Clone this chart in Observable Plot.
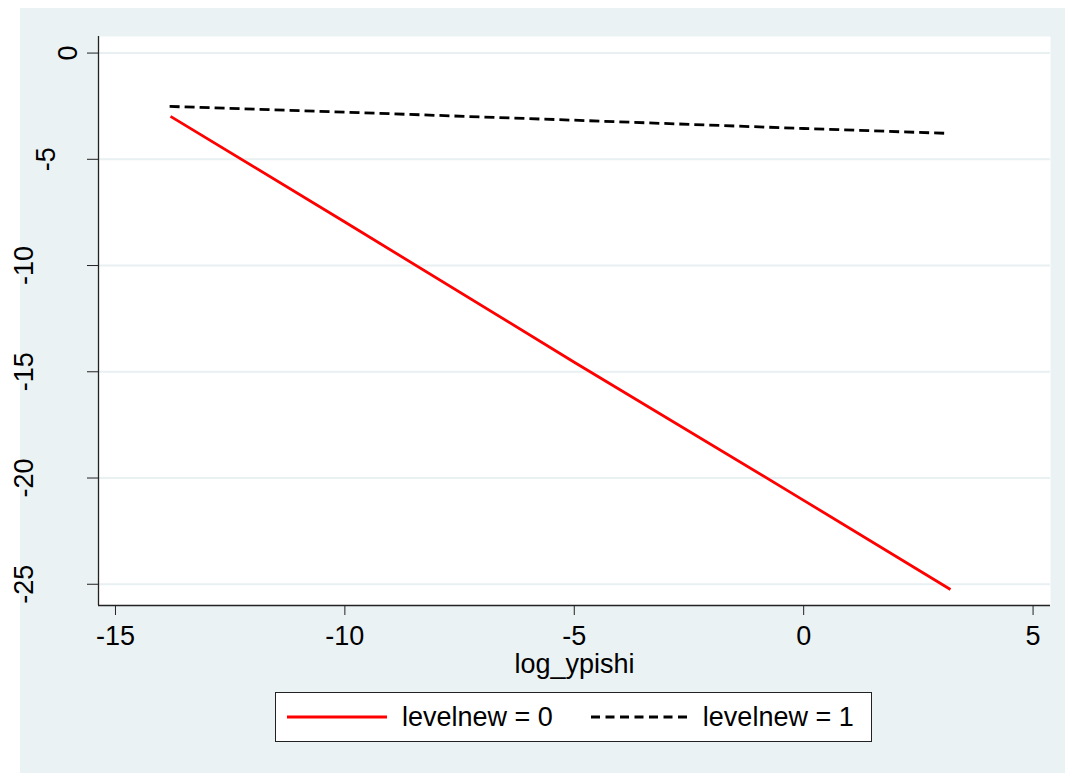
<!DOCTYPE html>
<html>
<head>
<meta charset="utf-8">
<script src="https://cdn.jsdelivr.net/npm/d3@7"></script>
<script src="https://cdn.jsdelivr.net/npm/@observablehq/plot@0.6"></script>
<style>
  html, body { margin: 0; padding: 0; background: #ffffff; }
  body { width: 1065px; height: 773px; position: relative; overflow: hidden;
         font-family: "Liberation Sans", Arial, sans-serif; }
  #fig { position: absolute; left: 20px; top: 8px; width: 1045px; height: 765px; background: #EAF2F3; }
  #chart { position: absolute; left: 0; top: 0; }
  #legend { position: absolute; left: 255px; top: 684px; width: 595px; height: 48px;
            border: 1px solid #222; background: #ffffff; display: flex; align-items: center;
            font-size: 27px; color: #000; white-space: nowrap; }
  #legend .sw { display: block; }
</style>
</head>
<body>
<div id="fig">
  <div id="chart"></div>
  <div id="legend"></div>
</div>
<script>
// ---- data ----
const seriesNames = ["levelnew = 0", "levelnew = 1"];
const x0 = [-13.8, -10, -5, 0, 3.2];
const y0 = [-2.98, -7.95, -14.55, -21.05, -25.25];
const x1 = [-13.82, -10, -5, 0, 3.15];
const y1 = [-2.51, -2.78, -3.16, -3.55, -3.78];
const xTicks = [-15, -10, -5, 0, 5];
const xTickLabels = ["-15", "-10", "-5", "0", "5"];
const yTicks = [0, -5, -10, -15, -20, -25];
const yTickLabels = ["0", "-5", "-10", "-15", "-20", "-25"];
const xTitle = "log_ypishi";
const xDomain = [-15.37, 5.38];
const yDomain = [-26.0, 0.78];

const colors = ["#ff0000", "#000000"];
const font = "'Liberation Sans', Arial, sans-serif";

const s0 = x0.map((x, i) => ({x, y: y0[i]}));
const s1 = x1.map((x, i) => ({x, y: y1[i]}));

const yLabelMarks = yTicks.map((t, i) =>
  Plot.text([t], {
    y: d => d,
    frameAnchor: "left",
    text: () => yTickLabels[i],
    rotate: -90,
    textAnchor: "middle",
    lineAnchor: "middle",
    fontSize: 27,
    fill: "#000",
    dx: -8 - 22 * yTickLabels[i].length
  })
);

const chart = Plot.plot({
  width: 1045,
  height: 680,
  marginLeft: 78,
  marginRight: 15,
  marginTop: 28,
  marginBottom: 83,
  x: {domain: xDomain},
  y: {domain: yDomain},
  style: {background: "transparent", fontFamily: font, color: "#000", overflow: "visible"},
  marks: [
    Plot.frame({fill: "#ffffff", stroke: "none"}),
    Plot.ruleY(yTicks, {stroke: "#E8F0F2", strokeWidth: 2}),
    Plot.ruleX([xDomain[0]], {stroke: "#222", strokeWidth: 1.3}),
    Plot.ruleY([yDomain[0]], {stroke: "#222", strokeWidth: 1.3}),
    Plot.axisY({ticks: yTicks, tickSize: 11, tickFormat: () => "", stroke: "#222", label: null}),
    Plot.axisX({ticks: xTicks, tickSize: 10, tickPadding: 10, fontSize: 27,
                tickFormat: (d, i) => xTickLabels[xTicks.indexOf(d)], stroke: "#222", fill: "#000", label: null}),
    ...yLabelMarks,
    Plot.text([xTitle], {frameAnchor: "bottom", text: d => d, lineAnchor: "bottom", dy: 67, fontSize: 27, fill: "#000"}),
    Plot.line(s0, {x: "x", y: "y", stroke: colors[0], strokeWidth: 2.8, strokeLinecap: "butt"}),
    Plot.line(s1, {x: "x", y: "y", stroke: colors[1], strokeWidth: 2.8, strokeDasharray: "10,5", strokeLinecap: "butt"})
  ]
});
document.getElementById("chart").appendChild(chart);

// ---- legend ----
const legend = document.getElementById("legend");
const dashes = [null, "9,5.5"];
const widths = [100, 101];
const gapsBefore = [11, 38];
seriesNames.forEach((name, i) => {
  const ns = "http://www.w3.org/2000/svg";
  const svg = document.createElementNS(ns, "svg");
  svg.setAttribute("width", widths[i]);
  svg.setAttribute("height", 10);
  svg.setAttribute("class", "sw");
  svg.style.marginLeft = gapsBefore[i] + "px";
  const ln = document.createElementNS(ns, "line");
  ln.setAttribute("x1", 0); ln.setAttribute("x2", widths[i]);
  ln.setAttribute("y1", 5); ln.setAttribute("y2", 5);
  ln.setAttribute("stroke", colors[i]);
  ln.setAttribute("stroke-width", 3);
  if (dashes[i]) ln.setAttribute("stroke-dasharray", dashes[i]);
  svg.appendChild(ln);
  legend.appendChild(svg);
  const sp = document.createElement("span");
  sp.textContent = name;
  sp.style.marginLeft = (i === 0 ? 15 : 11) + "px";
  legend.appendChild(sp);
});
</script>
</body>
</html>
